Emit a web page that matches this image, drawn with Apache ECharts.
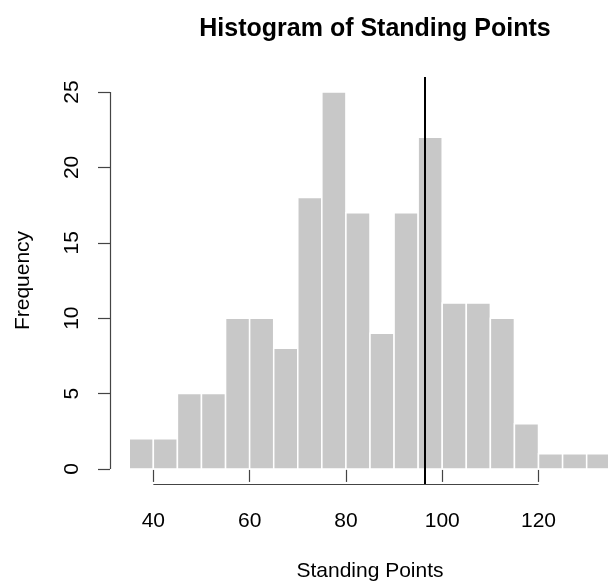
<!DOCTYPE html>
<html>
<head>
    <meta charset="UTF-8">
    <title>Histogram of Standing Points</title>
    <script src="https://cdn.jsdelivr.net/npm/echarts@6/dist/echarts.min.js"></script>
    <style>
        html, body { margin: 0; padding: 0; background: #fff; overflow: hidden; }
        /* the R plot region runs past the right edge of the picture, so the chart is wider than the window */
        #main { width: 640px; height: 587px; }
    </style>
</head>
<body>
<div id="main"></div>
<script type="text/javascript">
    // histogram bins (width 5) and counts
    var binStarts = [35, 40, 45, 50, 55, 60, 65, 70, 75, 80, 85, 90, 95, 100, 105, 110, 115, 120, 125, 130];
    var counts = [2, 2, 5, 5, 10, 10, 8, 18, 25, 17, 9, 17, 22, 11, 11, 10, 3, 1, 1, 1];
    var binWidth = 5;
    var xTicks = [40, 60, 80, 100, 120];
    var yTicks = [0, 5, 10, 15, 20, 25];
    var refLine = 96.3;

    var font = 'Liberation Sans, Arial, Helvetica, sans-serif';
    var axisColor = '#444';

    var barData = [];
    for (var i = 0; i < binStarts.length; i++) {
        barData.push([binStarts[i], binStarts[i] + binWidth, counts[i]]);
    }

    var myChart = echarts.init(document.getElementById('main'));

    var option = {
        animation: false,
        backgroundColor: '#fff',
        title: {
            text: 'Histogram of Standing Points',
            left: 370,
            top: 12,
            textAlign: 'center',
            textStyle: { fontFamily: font, fontSize: 25, fontWeight: 'bold', color: '#000' }
        },
        grid: { left: 110, top: 77, width: 520, height: 408 },
        xAxis: {
            type: 'value',
            min: 31,
            max: 139,
            name: 'Standing Points',
            nameLocation: 'middle',
            nameGap: 77,
            nameTextStyle: { fontFamily: font, fontSize: 21, color: '#000' },
            axisLine: { show: false },
            splitLine: { show: false },
            axisTick: { show: true, length: 13, customValues: xTicks, lineStyle: { color: axisColor, width: 1.2 } },
            axisLabel: { customValues: xTicks, margin: 27, fontFamily: font, fontSize: 21, color: '#000' }
        },
        yAxis: {
            type: 'value',
            min: -1,
            max: 26,
            name: 'Frequency',
            nameLocation: 'middle',
            nameRotate: 90,
            nameGap: 76,
            nameTextStyle: { fontFamily: font, fontSize: 21, color: '#000' },
            axisLine: { show: false },
            splitLine: { show: false },
            axisTick: { show: true, length: 12, customValues: yTicks, lineStyle: { color: axisColor, width: 1.2 } },
            axisLabel: { customValues: yTicks, rotate: 90, margin: 27, fontFamily: font, fontSize: 21, color: '#000' }
        },
        series: [
            {
                type: 'custom',
                data: barData,
                encode: { x: [0, 1], y: 2 },
                renderItem: function (params, api) {
                    var p0 = api.coord([api.value(0), api.value(2)]);
                    var p1 = api.coord([api.value(1), 0]);
                    return {
                        type: 'rect',
                        shape: { x: p0[0], y: p0[1], width: p1[0] - p0[0], height: p1[1] - p0[1] },
                        style: { fill: '#c8c8c8', stroke: '#fff', lineWidth: 1.5 }
                    };
                }
            },
            {
                type: 'line',
                data: [],
                markLine: {
                    silent: true,
                    symbol: 'none',
                    label: { show: false },
                    animation: false,
                    data: [
                        [{ coord: [xTicks[0], -1], lineStyle: { color: axisColor, width: 1.2, type: 'solid' } },
                         { coord: [xTicks[xTicks.length - 1], -1] }],
                        [{ coord: [31, yTicks[0]], lineStyle: { color: axisColor, width: 1.2, type: 'solid' } },
                         { coord: [31, yTicks[yTicks.length - 1]] }],
                        { xAxis: refLine, lineStyle: { color: '#000', width: 2, type: 'solid' } }
                    ]
                }
            }
        ]
    };
    myChart.setOption(option);
</script>
</body>
</html>
